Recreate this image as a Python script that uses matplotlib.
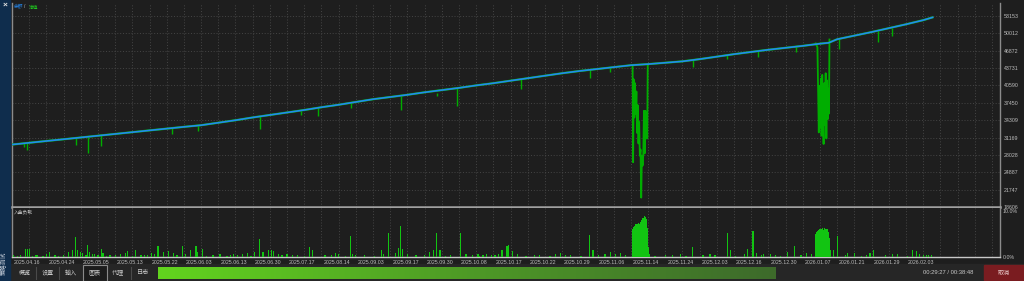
import numpy as np
import matplotlib
matplotlib.use('Agg')
import matplotlib.pyplot as plt
from matplotlib.patches import Rectangle
from matplotlib.colors import LinearSegmentedColormap
import matplotlib.transforms as mtransforms

plt.rcParams['font.family'] = ['Liberation Sans', 'Noto Sans CJK SC', 'DejaVu Sans']
CJK = ['Noto Sans CJK SC', 'DejaVu Sans']

# ---------------- data ----------------
date_labels = ['2025.04.16', '2025.04.24', '2025.05.05', '2025.05.13', '2025.05.22',
               '2025.06.03', '2025.06.13', '2025.06.30', '2025.07.17', '2025.08.14',
               '2025.09.03', '2025.09.17', '2025.09.30', '2025.10.08', '2025.10.17',
               '2025.10.22', '2025.10.29', '2025.11.06', '2025.11.14', '2025.11.24',
               '2025.12.03', '2025.12.16', '2025.12.30', '2026.01.07', '2026.01.21',
               '2026.01.29', '2026.02.03']
date_pos = [0, 20, 40, 60, 80, 100, 120, 140, 160, 180, 200, 220, 240, 260, 280,
            300, 320, 340, 360, 380, 400, 420, 440, 460, 480, 500, 520]

y_ticks = [18606, 21747, 24887, 28028, 31169, 34309, 37450, 40590, 43731, 46872, 50012, 53153]

# balance (blue) by trade number
bal_t = [0, 10, 20, 30, 40, 50, 60, 70, 80, 90, 100, 110, 120, 130, 140, 150, 160, 170,
         180, 190, 200, 210, 220, 230, 240, 250, 260, 270, 280, 290, 300, 310, 320, 330,
         340, 350, 360, 370, 380, 390, 400, 410, 420, 430, 440, 450, 460, 470, 475, 480, 490,
         500, 510, 520, 530, 536]
bal_v = [29900, 30220, 30540, 30860, 31180, 31500, 31820, 32140, 32460, 32780, 33100,
         33400, 33850, 34300, 34800, 35250, 35700, 36150, 36650, 37100, 37600, 38100,
         38500, 38900, 39350, 39750, 40150, 40600, 41000, 41450, 41900, 42350, 42800,
         43200, 43550, 43900, 44250, 44450, 44700, 44950, 45350, 45800, 46250, 46650,
         47050, 47400, 47750, 48150, 48300, 48950, 49600, 50250, 50950, 51650, 52400, 52950]

# equity dips (green spikes below the balance line)
spike_t = [7, 9, 37, 44, 52, 93, 108, 144, 168, 178, 197, 226, 247, 259, 296, 336, 348,
           396, 416, 434, 456, 481, 504, 512]
spike_low = [29400, 29000, 29900, 28300, 29700, 31900, 32300, 32800, 35300, 35000, 36600,
             36100, 38700, 36800, 40000, 41900, 43100, 43900, 45300, 45700, 46600, 47160,
             48400, 49500]
spike_high = [30120, 30180, 31080, 31300, 31560, 32880, 33340, 34980, 36050, 36550, 37450,
              38740, 39250, 40110, 41720, 43410, 43830, 45190, 46070, 46810, 47610, 49000,
              50500, 51050]

# equity during the two large drawdowns
dd1_t = [361.0, 361.3, 361.6, 362.0, 362.4, 362.8, 363.2, 363.6, 364.0, 364.4, 364.8,
         365.2, 365.6, 366.0, 366.4, 366.8, 367.2, 367.6, 368.0, 368.4, 368.8, 369.2,
         369.5, 369.8]
dd1_v = [44250, 26700, 41700, 34800, 41000, 35500, 39500, 32000, 37000, 30100, 34000,
         27900, 29000, 20300, 27900, 26100, 28000, 36000, 28300, 36000, 31000, 35500,
         31000, 44400]
dd2_t = [467.5, 468.5, 469.3, 469.7, 470.1, 470.5, 470.9, 471.3, 471.7, 472.1, 472.5,
         472.9, 473.3, 473.7, 474.1, 474.5, 474.9, 475.2, 475.5]
dd2_v = [48200, 47500, 32100, 40500, 33000, 41800, 31500, 42500, 34000, 30000, 41000,
         33500, 42800, 31000, 41500, 34500, 40000, 35500, 48900]

# deposit load (%) bars
load_t = [1, 8, 9, 10, 12, 14, 22, 30, 33, 35, 37, 38, 40, 41, 44, 45, 48, 52, 53, 66, 67,
          72, 79, 81, 85, 88, 91, 94, 99, 101, 104, 107, 108, 111, 129, 134, 137, 141, 144,
          146, 149, 151, 152, 155, 163, 173, 175, 188, 197, 198, 215, 216, 219, 223, 225,
          226, 227, 243, 245, 247, 249, 261, 271, 274, 276, 283, 285, 288, 289, 291, 319,
          336, 338, 348, 351, 354, 371, 396, 406, 416, 418, 428, 431, 433, 437, 441, 451,
          455, 462, 478, 480, 486, 490, 499, 501, 512, 524, 526, 528, 532, 535,
          3, 5, 15, 18, 20, 25, 27, 43, 47, 50, 55, 57, 60, 63, 70, 75, 77, 83, 96, 113,
          117, 121, 125, 127, 131, 139, 157, 160, 166, 170, 182, 186, 190, 194, 200, 205,
          211, 230, 235, 240, 252, 255, 264, 268, 272, 279, 281, 294, 299, 304, 307, 313,
          316, 322, 325, 331, 341, 345, 357, 374, 380, 384, 389, 392, 402, 409, 421, 426,
          436, 444, 447, 459, 465, 485, 494, 497, 508, 515, 521, 530, 533,
          361.0, 361.5, 362.0, 362.5, 363.0, 363.5, 364.0, 364.5, 365.0, 365.5, 366.0,
          366.5, 367.0, 367.5, 368.0, 368.5, 369.0, 369.5, 370.0,
          467.5, 468.0, 468.5, 469.0, 469.5, 470.0, 470.5, 471.0, 471.5, 472.0, 472.5,
          473.0, 473.5, 474.0, 474.5, 475.0, 475.5, 476.0]
load_v = [0.5, 1.6, 1.6, 1.7, 0.3, 0.4, 1.0, 0.4, 1.0, 1.4, 4.2, 1.4, 1.0, 0.9, 2.6, 1.0,
          0.7, 1.6, 0.9, 0.9, 1.2, 1.4, 0.5, 0.9, 2.4, 1.0, 1.3, 0.9, 2.3, 0.7, 1.4, 2.3,
          1.0, 1.6, 0.7, 0.7, 0.9, 1.0, 3.8, 1.0, 1.4, 1.4, 1.2, 0.7, 0.5, 2.0, 1.4, 0.9,
          4.3, 0.7, 1.4, 0.7, 5.0, 0.8, 1.8, 6.5, 1.7, 1.0, 1.4, 5.0, 1.4, 5.0, 0.6, 0.5,
          0.6, 0.7, 1.4, 2.4, 2.6, 1.2, 0.8, 4.6, 1.4, 1.0, 0.7, 0.8, 0.7, 2.0, 0.7, 5.0,
          1.4, 1.7, 5.5, 0.8, 0.7, 0.7, 1.0, 2.4, 0.8, 1.4, 4.3, 0.8, 0.8, 0.8, 1.4, 0.7,
          1.4, 1.2, 0.7, 0.4, 0.4,
          0.3, 0.4, 0.5, 0.3, 0.6, 0.4, 0.3, 0.5, 0.6, 0.4, 0.3, 0.5, 0.4, 0.6, 0.3, 0.5,
          0.4, 0.6, 0.5, 0.3, 0.4, 0.6, 0.3, 0.5, 0.4, 0.3, 0.5, 0.6, 0.4, 0.3, 0.5, 0.4,
          0.6, 0.3, 0.5, 0.4, 0.3, 0.6, 0.4, 0.5, 0.3, 0.4, 0.6, 0.5, 0.3, 0.4, 0.5, 0.6,
          0.3, 0.4, 0.5, 0.3, 0.6, 0.4, 0.5, 0.3, 0.4, 0.6, 0.5, 0.3, 0.4, 0.5, 0.6, 0.3,
          0.4, 0.5, 0.3, 0.6, 0.4, 0.5, 0.3, 0.4, 0.6, 0.5, 0.3, 0.4, 0.5, 0.6, 0.3, 0.4,
          0.5,
          5.8, 6.2, 6.5, 6.4, 6.8, 6.6, 7.0, 7.2, 6.9, 7.4, 7.6, 7.8, 8.2, 8.0, 8.6, 8.3,
          7.9, 6.0, 2.0,
          4.8, 5.2, 5.5, 5.3, 5.6, 5.8, 5.4, 5.9, 6.1, 5.7, 6.0, 5.6, 5.8, 5.5, 5.9, 5.2,
          4.0, 1.5]

tabs = ['概览', '设置', '输入', '图表', '代理', '日志']
elapsed = '00:29:27 / 00:38:48'
progress = 0.759

# ---------------- style ----------------
W, H = 1024, 281
BG = '#1e1e1e'
BLUE = '#2388f0'
GREEN_EQ = '#00ad00'
GREEN_BAR = '#12c412'
GRID = '#4a4a4a'
FRAME = '#8c8c8c'
TXT = '#bdbdbd'
FS = 3.8

fig = plt.figure(figsize=(W / 100, H / 100), dpi=100, facecolor=BG)


def rect(x0, y0, x1, y1):
    return [x0 / W, 1 - y1 / H, (x1 - x0) / W, (y1 - y0) / H]


# background layer (pixel coordinates)
bg = fig.add_axes([0, 0, 1, 1])
bg.set_facecolor(BG)
bg.axis('off')
bg.add_patch(Rectangle((0, 264), W, 17, color='#262626'))
cmap = LinearSegmentedColormap.from_list('prog', ['#62d41e', '#4e9a26', '#3d6a2b'])
grad = np.linspace(0, 1, 256).reshape(1, -1)
bar_x1 = 158 + progress * (972 - 158)
bg.imshow(grad, extent=(158, bar_x1, 279, 267), aspect='auto', cmap=cmap, zorder=2)
bg.add_patch(Rectangle((984, 265), 40, 15, color='#7a1c20', zorder=2))
bg.add_patch(Rectangle((83, 265), 24, 16, facecolor='#1c1c1c', edgecolor='#8a8a8a',
                       linewidth=0.8, zorder=2))
for sx in [36, 59, 131]:
    bg.plot([sx, sx], [267, 279], color='#4a4a4a', lw=0.8, zorder=2)
bg.add_patch(Rectangle((0, 0), 10, H, color='#0f2d4d', zorder=3))
bg.set_xlim(0, W)
bg.set_ylim(H, 0)

# upper chart: balance / equity
ax1 = fig.add_axes(rect(12, 3, 1000, 207))
ax1.set_facecolor(BG)
ax1.set_xlim(0, 574.7)
ax1.set_ylim(18606, 55505)
ax1.set_xticks(range(0, 575, 10))
ax1.set_xticklabels([])
ax1.set_yticks(y_ticks)
ax1.set_yticklabels([str(v) for v in y_ticks])
ax1.yaxis.tick_right()
ax1.tick_params(axis='both', length=0, colors=TXT, labelsize=FS, pad=2.5)
ax1.grid(True, color=GRID, linestyle=(0, (1.2, 2.2)), linewidth=0.6)
ax1.set_axisbelow(True)
for s in ['left', 'right']:
    ax1.spines[s].set_color(FRAME)
    ax1.spines[s].set_linewidth(1.0)
ax1.spines['top'].set_visible(False)
ax1.spines['bottom'].set_color('#a0a0a0')
ax1.spines['bottom'].set_linewidth(1.8)

ax1.vlines(spike_t, spike_low, spike_high, color=GREEN_EQ, lw=1.0, zorder=2)
ax1.plot(dd1_t, dd1_v, color=GREEN_EQ, lw=1.3, zorder=2)
ax1.plot(dd2_t, dd2_v, color=GREEN_EQ, lw=1.3, zorder=2)
ax1.plot(bal_t, bal_v, color=GREEN_EQ, lw=1.6, zorder=3, solid_capstyle='butt')
ax1.plot(bal_t, bal_v, color=BLUE, lw=1.2, zorder=4, solid_capstyle='butt')

# lower chart: deposit load
ax2 = fig.add_axes(rect(12, 208, 1000, 257))
ax2.set_facecolor(BG)
ax2.set_xlim(0, 574.7)
ax2.set_ylim(0, 10.25)
ax2.set_xticks(range(0, 575, 10))
ax2.set_xticklabels([date_labels[date_pos.index(p)] if p in date_pos else '' for p in range(0, 575, 10)])
ax2.set_yticks([0, 10])
ax2.set_yticklabels(['0.0%', '10.0%'])
ax2.yaxis.tick_right()
ax2.tick_params(axis='both', length=0, colors=TXT, labelsize=FS, pad=2.0)
ax2.grid(True, axis='x', color=GRID, linestyle=(0, (1.2, 2.2)), linewidth=0.6)
ax2.set_axisbelow(True)
offset = mtransforms.ScaledTranslation(2 / 100, 0, fig.dpi_scale_trans)
for lab in ax2.get_xticklabels():
    lab.set_ha('left')
    lab.set_transform(lab.get_transform() + offset)
ylabs = ax2.get_yticklabels()
ylabs[1].set_va('top')
for s in ['left', 'right']:
    ax2.spines[s].set_color(FRAME)
    ax2.spines[s].set_linewidth(1.0)
ax2.spines['top'].set_visible(False)
ax2.spines['bottom'].set_color('#c8c8c8')
ax2.spines['bottom'].set_linewidth(1.0)
ax2.bar(load_t, load_v, width=0.75, color=GREEN_BAR, linewidth=0, zorder=3)

# overlay layer for annotation text (pixel coordinates)
ov = fig.add_axes([0, 0, 1, 1])
ov.set_xlim(0, W)
ov.set_ylim(H, 0)
ov.axis('off')
ov.patch.set_alpha(0)
ov.text(14, 7, '余额', color=BLUE, fontsize=3.4, family=CJK, va='center', ha='left')
ov.text(24.5, 7, '/', color=TXT, fontsize=3.4, va='center', ha='left')
ov.text(28.5, 7, '净值', color='#1ec81e', fontsize=3.4, family=CJK, va='center', ha='left')
ov.text(14, 212, '入金负载', color='#c8c8c8', fontsize=3.4, family=CJK, va='center', ha='left')
for lab, cx in zip(tabs, [25, 48, 71, 95, 118, 143]):
    ov.text(cx, 272.5, lab, color='#c8c8c8', fontsize=4.4, family=CJK, ha='center', va='center')
ov.text(948, 272.5, elapsed, color='#c8c8c8', fontsize=4.2, ha='center', va='center')
ov.text(1004, 272.5, '取消', color='#e8c8c8', fontsize=4.4, family=CJK, ha='center', va='center')
ov.text(5, 5, '×', color='#e0e0e0', fontsize=6, ha='center', va='center', fontweight='bold')
ov.text(4.5, 263, '策略测试', color='#c8d0dc', fontsize=4.2, family=CJK, rotation=90,
        ha='center', va='center')

fig.savefig('out.png', dpi=100, facecolor=BG)
